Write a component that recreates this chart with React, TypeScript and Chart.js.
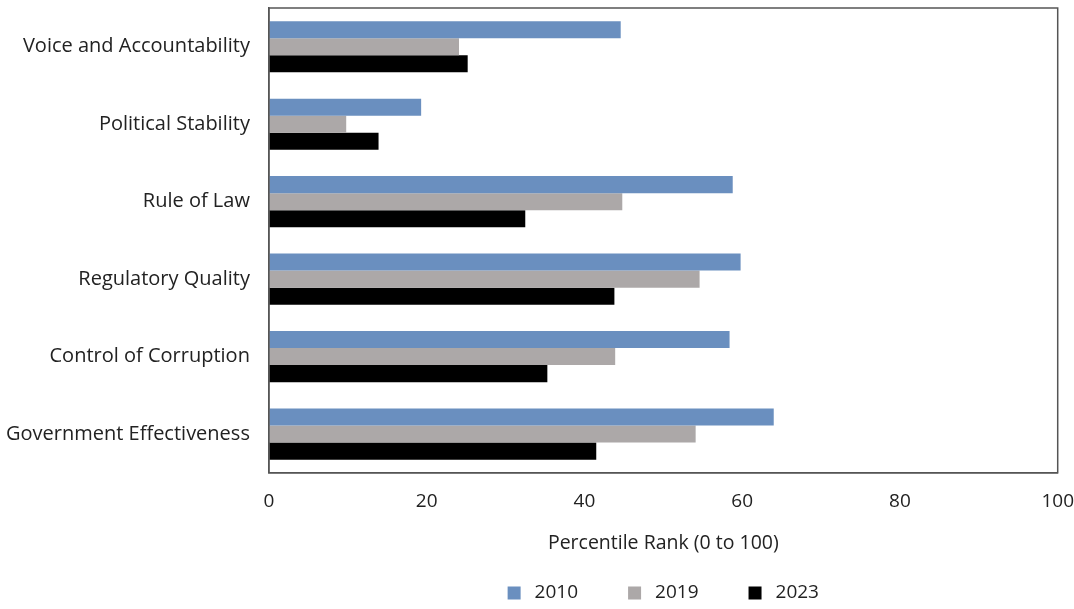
import React, { useEffect, useRef } from "react";
import { Chart, registerables } from "chart.js";

Chart.register(...registerables);

const categories = [
  "Voice and Accountability",
  "Political Stability",
  "Rule of Law",
  "Regulatory Quality",
  "Control of Corruption",
  "Government Effectiveness",
];
const values2010 = [44.6, 19.3, 58.8, 59.8, 58.4, 64.0];
const values2019 = [24.1, 9.8, 44.8, 54.6, 43.9, 54.1];
const values2023 = [25.2, 13.9, 32.5, 43.8, 35.3, 41.5];
const seriesLabels = ["2010", "2019", "2023"];
const seriesColors = ["#6A8FBF", "#ACA8A8", "#000000"];
const xTicks = [0, 20, 40, 60, 80, 100];

const FONT = "'Open Sans'";
const TEXT = "#222222";
const FRAME = "#555555";

const frameAndLegend = {
  id: "frameAndLegend",
  afterDraw(chart: any) {
    const { ctx, chartArea } = chart;
    ctx.save();
    ctx.strokeStyle = FRAME;
    ctx.lineWidth = 1.5;
    ctx.strokeRect(
      chartArea.left,
      chartArea.top,
      chartArea.right - chartArea.left,
      chartArea.bottom - chartArea.top
    );
    ctx.font = `19px ${FONT}`;
    ctx.textBaseline = "middle";
    ctx.textAlign = "left";
    const box = 13;
    const gapBoxText = 14;
    const gapItems = 50;
    const widths = seriesLabels.map((l) => ctx.measureText(l).width);
    const total =
      widths.reduce((a, b) => a + b, 0) +
      seriesLabels.length * (box + gapBoxText) +
      gapItems * (seriesLabels.length - 1);
    let x = (chartArea.left + chartArea.right) / 2 - total / 2;
    const y = 593;
    seriesLabels.forEach((l, i) => {
      ctx.fillStyle = seriesColors[i];
      ctx.fillRect(x, y - box / 2, box, box);
      x += box + gapBoxText;
      ctx.fillStyle = TEXT;
      ctx.fillText(l, x, y);
      x += widths[i] + gapItems;
    });
    ctx.restore();
  },
};

export default function App() {
  const ref = useRef<HTMLCanvasElement | null>(null);
  useEffect(() => {
    document.body.style.margin = "0";
    if (!ref.current) return;
    const chart = new Chart(ref.current, {
      type: "bar",
      data: {
        labels: categories,
        datasets: [values2010, values2019, values2023].map((d, i) => ({
          label: seriesLabels[i],
          data: d,
          backgroundColor: seriesColors[i],
          borderWidth: 0,
          categoryPercentage: 0.66,
          barPercentage: 1.0,
        })),
      },
      options: {
        indexAxis: "y",
        animation: false,
        responsive: false,
        maintainAspectRatio: false,
        layout: { padding: { top: 0, right: 16, bottom: 54, left: 6 } },
        plugins: {
          legend: { display: false },
          tooltip: { enabled: false },
        },
        scales: {
          x: {
            min: 0,
            max: 100,
            afterBuildTicks: (axis: any) => {
              axis.ticks = xTicks.map((v) => ({ value: v }));
            },
            grid: {
              display: true,
              drawOnChartArea: false,
              drawTicks: true,
              tickLength: 17,
              color: "rgba(0,0,0,0)",
              tickColor: "rgba(0,0,0,0)",
            },
            border: { display: true, color: FRAME, width: 1.5 },
            ticks: {
              color: TEXT,
              font: { family: FONT, size: 19 },
              padding: 0,
              maxRotation: 0,
            },
            title: {
              display: true,
              text: "Percentile Rank (0 to 100)",
              color: TEXT,
              font: { family: FONT, size: 19.5 },
              padding: { top: 19, bottom: 0 },
            },
          },
          y: {
            grid: {
              display: true,
              drawOnChartArea: false,
              drawTicks: true,
              tickLength: 19,
              color: "rgba(0,0,0,0)",
              tickColor: "rgba(0,0,0,0)",
            },
            border: { display: true, color: FRAME, width: 1.5 },
            ticks: {
              color: TEXT,
              font: { family: FONT, size: 20, lineHeight: 0.8 },
              padding: 0,
            },
          },
        },
      },
      plugins: [frameAndLegend],
    } as any);
    return () => chart.destroy();
  }, []);
  return (
    <div style={{ width: 1074, height: 609, background: "#fff" }}>
      <canvas ref={ref} width={1074} height={609} style={{ display: "block" }} />
    </div>
  );
}
